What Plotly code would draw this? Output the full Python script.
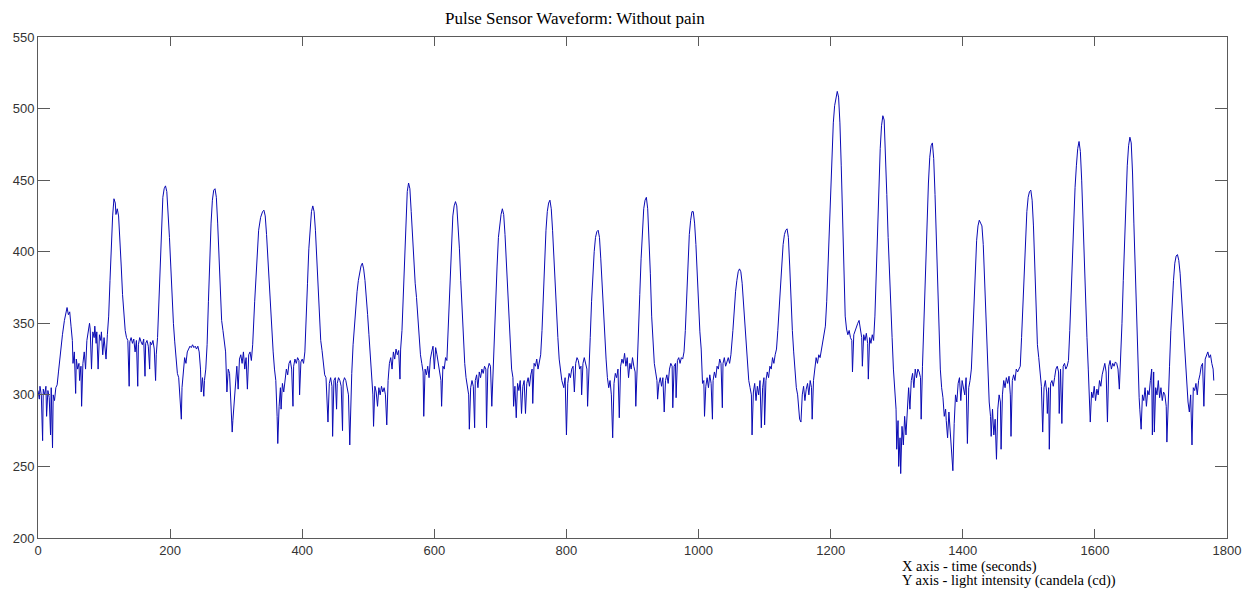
import plotly.graph_objects as go

# (time in samples/seconds, light intensity)
seg_a = [(0,303),(2,297),(3,306),(5,300),(7,268),(8,304),(10,300),(12,306),(13,285),(15,303),(17,298),(19,272),(20,305),(22,263),(23,300),(25,296),(27,305),(29,307),(31,316),(34,330),(37,342),(40,352),(42,358),(44,361),(46,356),(48,358),(50,348),(52,338),(53,322),(55,330),(57,301),(58,325),(60,318),(62,322),(63,310),(65,320),(66,292),(68,322),(70,330),(72,318),(74,338),(76,345),(78,350),(79,346),(81,318),(83,344),(85,340),(86,348),(88,336),(89,344),(91,318),(93,342),(95,338),(96,344),(98,328),(100,340),(101,336),(103,325),(105,342),(107,355),(109,380),(111,405),(113,425),(115,437),(117,434),(118,426),(120,430),(122,425),(124,410),(126,390),(128,370),(130,355),(132,345),(134,340),
         (136,338),(138,306),(139,337),(141,340),(143,336),(145,339),(147,330),(149,338),(151,306),(152,335),(154,340),(156,337),(158,335),(160,339),(162,313),(163,336),(165,338),(167,334),(169,318),(170,337),(172,335),(174,338),(176,332),(178,310),(179,328),
         (181,340),(183,365),(185,395),(187,420),(189,438),(191,444),(193,446),(195,442),(197,428),(199,410),(201,390),(203,368),(205,350),(207,337),
         (209,326),(211,315),(213,312),(215,300),(217,283),(218,305),(220,318),(222,326),(224,322),(226,330),(228,332),(230,334),(232,333),(234,335),(236,333),(238,334),(240,332),(242,334),(244,330),(246,318),(247,302),(249,312),(251,299),(252,310),(254,318)]

seg_b = [(256,335),(258,365),(260,395),(262,420),(264,436),(266,443),(268,444),(270,438),(272,420),(274,398),(276,375),(278,352),(280,345),(282,338),(284,330),
         (286,302),(288,318),(290,315),(292,292),(294,274),(295,282),(297,296),(299,312),(301,320),(303,304),(305,325),(307,328),(309,322),(311,330),(313,318),(315,326),(317,304),(319,328),(321,330),(323,324),
         (325,335),(328,365),(331,395),(334,415),(337,424),(340,428),(342,429),(344,425),(346,412),(348,395),(350,375),(352,356),(354,340),
         (356,330),(358,318),(360,310),(362,285),(363,266),(365,292),(367,305),(368,290),(370,308),(372,302),(374,312),(376,318),(378,314),(380,322),(382,324),(384,318),(386,292),(387,320),(389,325),(391,322),(393,326),(395,324),(396,300),(398,323),(400,325),(402,322),
         (404,330),(406,350),(408,378),(410,402),(412,420),(414,428),(416,432),(418,428),(420,415),(422,395),(424,372),(426,352),(428,338),(430,331),
         (432,322),(434,314),(436,312),(437,302),(439,281),(441,308),(443,312),(445,306),(446,271),(448,310),(450,312),(452,290),(453,308),(455,312),(457,310),(459,306),(461,275),(462,309),(464,312),(466,310),(468,306),(470,300),(472,265),(473,290)]

seg_c = [(475,315),(477,335),(479,350),(481,362),(483,372),(485,380),(487,386),(489,390),(491,392),(493,388),(495,380),(497,370),(499,356),(501,342),(503,330),
         (505,318),(507,300),(508,278),(510,306),(512,302),(514,292),(516,305),(518,300),(520,306),(522,302),(524,305),(526,300),(528,279),(530,310),(532,322),(534,326),(536,318),(538,330),(540,325),(542,332),(544,328),(546,331),(548,311),(549,332),
         (551,345),(553,372),(555,400),(557,425),(559,442),(561,448),(563,444),(565,428),(567,410),(569,392),(571,378),(573,368),(575,352),(577,338),(579,328),(581,322),
         (583,316),(584,285),(586,318),(588,314),(590,320),(592,312),(594,325),(596,330),(598,334),(600,318),(602,333),(604,328),(606,322),(608,316),(610,310),(611,292),(613,320),(615,318),(617,326),(619,324),
         (620,335),(622,360),(624,388),(626,410),(628,425),(630,432),(632,435),(634,432),(636,420),(638,402),(640,380),(642,358),(644,338),(646,322),(648,312),
         (650,306),(652,300),(653,276),(655,305),(657,310),(659,306),(661,277),(662,310),(664,314),(666,305),(668,316),(670,312),(672,318),(674,315),(676,320),(678,318),(679,277),(681,318),(683,322),(685,320),(687,292),
         (689,320),(691,340),(693,365),(695,390),(697,410),(699,420),(701,426),(703,430),(705,426),(707,412),(709,392),(711,370),(713,350),(715,332),(717,318)]

seg_d = [(719,312),(720,292),(722,306),(724,284),(726,308),(728,303),(730,310),(732,287),(734,306),(736,310),(738,287),(740,308),(742,312),(744,306),(746,314),(748,318),(749,294),(751,322),(753,320),(755,325),(757,318),(759,324),(761,328),
         (763,345),(765,370),(767,395),(769,415),(771,428),(773,434),(775,436),(777,430),(779,415),(781,395),(783,372),(785,357),(787,340),(789,325),(791,315),(793,310),
         (796,305),(798,312),(800,272),(802,308),(804,315),(806,312),(808,318),(810,320),(812,302),(814,322),(816,326),(818,324),(820,318),(822,320),(823,300),(825,322),(827,326),(829,322),(831,318),(832,292),(834,322),
         (836,340),(838,365),(840,385),(842,400),(844,410),(846,414),(848,415),(850,410),(852,395),(854,375),(856,355),(858,340),(860,325),(862,312),
         (864,305),(866,310),(868,300),(870,270),(872,308),(874,315),(876,312),(878,318),(880,284),(882,320),(884,325),(886,322),(888,329),(890,320),(892,326),(894,312),(896,322),(898,318),(900,326),(902,320),(904,316),(905,292),(907,322),
         (909,345),(911,370),(913,395),(915,418),(917,430),(919,436),(921,438),(923,430),(925,410),(927,385),(929,355),(931,333),(933,322),(935,316),
         (937,310),(938,297),(940,308),(942,312),(944,306),(946,312),(948,288),(950,310),(952,314),(954,308),(956,318),(958,322),(960,320),(961,291),(963,320),(965,322),(966,298),(968,324),(970,326),(972,322),(974,326),(976,325),(978,330)]

seg_e = [(980,345),(982,370),(984,395),(986,412),(988,422),(990,428),(992,428),(994,420),(996,405),(998,382),(1000,362),(1002,344),(1004,332),(1006,308),
         (1008,310),(1009,285),(1011,306),(1013,312),(1015,305),(1017,314),(1019,308),(1021,283),(1022,310),(1024,316),(1026,312),(1028,320),(1030,318),(1032,325),(1034,322),(1036,291),(1037,322),(1039,326),(1041,320),(1043,324),(1045,326),(1047,322),(1049,328),
         (1052,345),(1054,360),(1056,372),(1058,380),(1060,386),(1062,388),(1064,386),(1066,378),(1068,365),(1070,348),(1072,334),(1074,320),(1076,310),
         (1078,305),(1080,300),(1081,272),(1083,302),(1085,308),(1087,296),(1089,306),(1091,300),(1093,310),(1095,277),(1097,305),(1099,312),(1100,279),(1102,310),(1104,316),(1106,312),(1108,320),(1110,318),(1112,326),(1114,322),(1116,328),(1118,332),
         (1120,345),(1122,362),(1124,380),(1126,395),(1128,405),(1130,412),(1132,415),(1134,416),(1136,410),(1138,390),(1140,365),(1142,345),(1144,330),(1146,318),(1148,305),
         (1150,300),(1152,290),(1153,283),(1155,281),(1157,300),(1159,306),(1161,296),(1163,304),(1165,308),(1167,300),(1169,310),(1171,305),(1172,283),(1174,310),(1176,318),(1178,326),(1180,322),(1182,328),(1184,326),(1186,332),(1188,335),(1190,341),(1192,348),
         (1194,365),(1196,390),(1198,420),(1200,445),(1202,470),(1204,490),(1206,502),(1208,508),(1210,512),(1212,508),(1214,490),(1216,460),(1218,425),(1220,385),(1222,355)]

seg_f = [(1224,346),(1226,342),(1228,345),(1230,340),(1232,338),(1233,316),(1235,342),(1237,345),(1239,348),(1241,350),(1243,352),(1245,346),(1247,340),(1248,320),(1250,342),(1252,338),(1254,343),(1256,336),(1257,311),(1259,340),(1261,336),(1263,342),(1265,338),
         (1267,355),(1269,385),(1271,420),(1273,450),(1275,472),(1277,488),(1279,495),(1281,492),(1283,470),(1285,440),(1287,410),(1289,382),(1291,360),(1293,340),(1295,318),(1297,300),
         (1299,290),(1300,262),(1302,282),(1303,250),(1305,270),(1306,245),(1308,278),(1310,265),(1312,285),(1314,272),(1316,295),(1318,305),(1320,290),(1322,310),(1324,315),(1326,305),(1328,318),(1330,312),(1332,318),(1334,316),(1336,312),(1337,283),(1339,320),
         (1340,335),(1342,360),(1344,390),(1346,420),(1348,448),(1350,466),(1352,474),(1354,476),(1356,465),(1358,440),(1360,405),(1362,370),(1364,340),(1366,318),(1368,305),
         (1370,298),(1372,285),(1374,290),(1375,282),(1377,270),(1379,288),(1381,275),(1383,262),(1385,247),(1387,280),(1389,300),(1391,295),(1393,308),(1395,312),(1397,296),(1399,310),(1401,305),(1403,300),(1405,312),(1407,266),(1409,305),(1411,310),(1413,318),
         (1415,340),(1417,365),(1419,390),(1421,408),(1423,418),(1425,422),(1427,420),(1429,418),(1431,405),(1433,380),(1435,350),(1437,325),(1439,300),
         (1440,295),(1442,285),(1443,271),(1445,290),(1447,272),(1449,283),(1451,255),(1453,290),(1455,300),(1457,295),(1458,262),(1460,300),(1462,310),(1464,305),(1466,312),(1468,308),(1470,313),(1472,300),(1473,271),(1475,310),(1477,314),(1479,310),(1481,318),(1483,316),(1485,318),(1487,320)]

seg_g = [(1489,340),(1491,365),(1493,390),(1495,412),(1497,428),(1499,438),(1501,442),(1503,443),(1505,436),(1507,418),(1509,390),(1511,360),(1513,335),(1515,326),(1517,315),(1519,306),
         (1521,274),(1523,305),(1525,310),(1527,302),(1528,287),(1530,305),(1531,262),(1533,308),(1535,310),(1537,306),(1539,312),(1541,318),(1543,320),(1545,316),(1546,287),(1548,318),(1550,280),(1552,320),(1554,322),(1556,318),(1558,320),(1560,324),
         (1562,345),(1564,370),(1566,400),(1568,425),(1570,445),(1572,460),(1574,472),(1576,477),(1578,470),(1580,450),(1582,420),(1584,390),(1586,365),(1588,340),(1590,318),
         (1592,300),(1593,281),(1595,302),(1597,298),(1599,306),(1601,296),(1603,304),(1605,300),(1607,310),(1609,306),(1611,314),(1613,318),(1615,322),(1617,316),(1619,281),(1621,320),(1623,324),(1625,318),(1627,322),(1629,320),(1631,323),(1633,322),(1635,318),(1637,304),(1639,325),
         (1641,350),(1643,380),(1645,412),(1647,440),(1649,460),(1651,474),(1653,480),(1655,476),(1657,455),(1659,420),(1661,385),(1663,350),(1665,320),(1667,298),
         (1668,290),(1670,276),(1672,300),(1674,296),(1676,305),(1678,292),(1680,303),(1682,300),(1684,310),(1686,318),(1687,272),(1689,316),(1690,274),(1692,305),(1694,300),(1696,310),(1698,298),(1700,305),(1702,296),(1704,302),(1706,300),(1708,292),(1709,267),
         (1711,300),(1713,320),(1715,345),(1717,365),(1719,380),(1721,392),(1723,397),(1725,398),(1727,394),(1729,385),(1731,370),(1733,355),(1735,336),(1737,318),(1739,305),(1741,295),(1743,288),
         (1745,300),(1747,265),(1749,305),(1751,303),(1753,308),(1755,300),(1757,310),(1759,314),(1761,320),(1763,322),(1765,292),(1767,325),(1769,328),(1771,330),(1773,326),(1775,328),(1777,322),(1779,318),(1780,310)]

x_ticks = [0, 200, 400, 600, 800, 1000, 1200, 1400, 1600, 1800]
y_ticks = [200, 250, 300, 350, 400, 450, 500, 550]
title_text = "Pulse Sensor Waveform: Without pain"
note_x = "X axis - time (seconds)"
note_y = "Y axis - light intensity (candela (cd))"

samples = seg_a + seg_b + seg_c + seg_d + seg_e + seg_f + seg_g
t = [p[0] for p in samples]
v = [p[1] for p in samples]

fig = go.Figure()
fig.add_trace(go.Scatter(x=t, y=v, mode="lines",
                         line=dict(color="#0a0ab4", width=1), hoverinfo="x+y",
                         showlegend=False))

axis_common = dict(showline=True, linecolor="#5a5a5a", linewidth=1, mirror="ticks",
                   ticks="inside", tickcolor="#5a5a5a", showgrid=False, zeroline=False,
                   automargin=False,
                   tickfont=dict(family="Liberation Sans, Arial, sans-serif", size=13, color="#333333"))

fig.update_xaxes(range=[0, 1800], tickvals=x_ticks, ticklen=9, **axis_common)
fig.update_yaxes(range=[200, 550], tickvals=y_ticks, ticklen=12, **axis_common)

serif = "Liberation Serif, Times New Roman, serif"
fig.update_layout(
    width=1243, height=590,
    margin=dict(l=38, r=16, t=37, b=52),
    paper_bgcolor="white", plot_bgcolor="white",
    annotations=[
        dict(text=title_text, xref="paper", yref="paper", x=0.4516, y=1.036,
             xanchor="center", yanchor="middle", showarrow=False,
             font=dict(family=serif, size=17, color="#000000")),
        dict(text=note_x, xref="paper", yref="paper", x=0.725, y=-0.0559,
             xanchor="left", yanchor="middle", showarrow=False,
             font=dict(family=serif, size=14.5, color="#000000")),
        dict(text=note_y, xref="paper", yref="paper", x=0.725, y=-0.0858,
             xanchor="left", yanchor="middle", showarrow=False,
             font=dict(family=serif, size=14.5, color="#000000")),
    ],
)

fig.write_html("out.html")
